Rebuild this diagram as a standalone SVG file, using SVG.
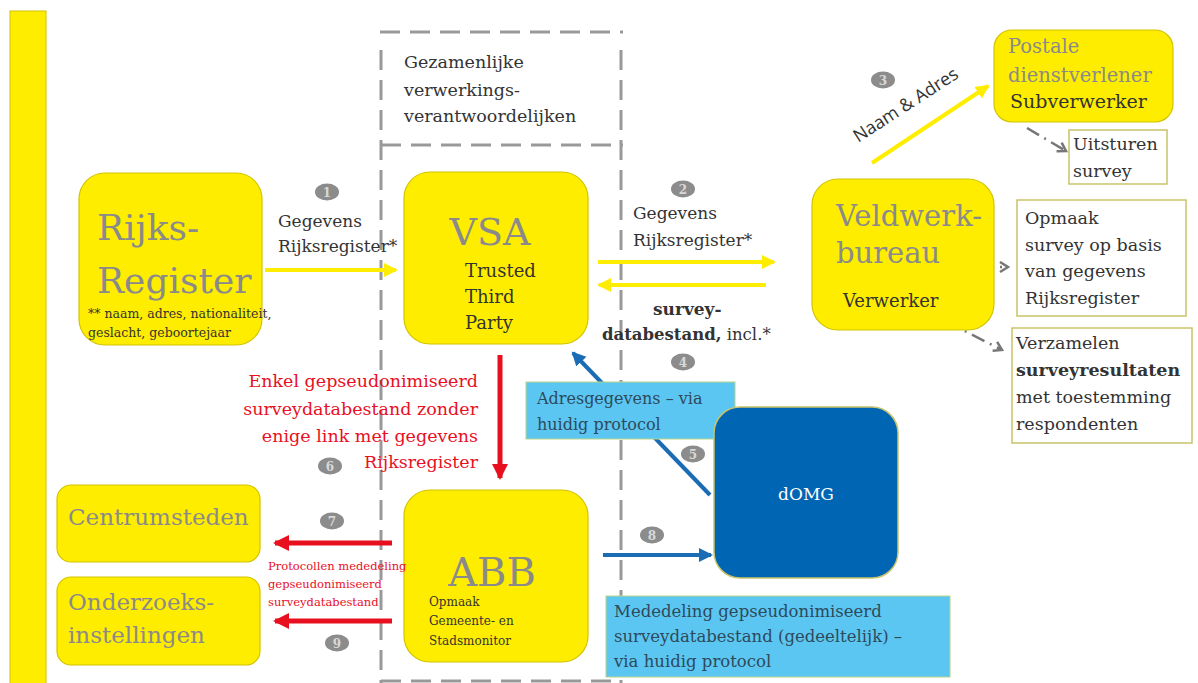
<svg xmlns="http://www.w3.org/2000/svg" width="1198" height="683" viewBox="0 0 1198 683">
<style>
text{font-family:"DejaVu Serif","Liberation Serif",serif;}
.box{fill:#FFED00;stroke:#d2c400;stroke-width:1.2;}
.big{fill:#8a8a8a;}
.dk{fill:#333;}
.note{fill:#fff;stroke:#c9c36a;stroke-width:1.5;}
.lb{fill:#5cc6f2;stroke:#b9d58a;stroke-width:1;}
.badge{fill:#8c8c8c;}
.bt{fill:#d8d8d8;font-size:12px;text-anchor:middle;font-weight:bold;}
.red{fill:#e8101f;}
.dash{fill:none;stroke:#999;stroke-width:3;stroke-dasharray:20 10;}
.yl{stroke:#FFED00;stroke-width:4;fill:none;}
.rl{stroke:#e8101f;stroke-width:5;fill:none;}
.bl{stroke:#1a6db4;stroke-width:4;fill:none;}
.gl{stroke:#777;stroke-width:2.5;fill:none;stroke-dasharray:14 6 2 6;}
</style>
<defs>
<marker id="ay" markerUnits="userSpaceOnUse" markerWidth="16" markerHeight="16" refX="12" refY="7" orient="auto"><path d="M0,0 L14,7 L0,14 z" fill="#FFED00"/></marker>
<marker id="ar" markerUnits="userSpaceOnUse" markerWidth="18" markerHeight="18" refX="14" refY="8" orient="auto"><path d="M0,0 L16,8 L0,16 z" fill="#e8101f"/></marker>
<marker id="ab" markerUnits="userSpaceOnUse" markerWidth="16" markerHeight="16" refX="12" refY="7" orient="auto"><path d="M0,0 L14,7 L0,14 z" fill="#1a6db4"/></marker>
<marker id="ag" markerUnits="userSpaceOnUse" markerWidth="14" markerHeight="14" refX="10" refY="6" orient="auto"><path d="M2,1 L10,6 L2,11" fill="none" stroke="#777" stroke-width="2.5"/></marker>
</defs>

<rect id="bar" x="10" y="11" width="36" height="680" fill="#FFED00" stroke="#d2c400" stroke-width="1"/>

<g id="joint-box">
<path class="dash" d="M380,32 L623,32 M381,50 L381,683 M381,145 L623,145 M621,50 L621,683 M381,681 L621,681"/>
<text class="dk" font-size="17.5"><tspan x="404" y="68">Gezamenlijke</tspan><tspan x="404" y="96">verwerkings-</tspan><tspan x="404" y="122">verantwoordelijken</tspan></text>
</g>

<g id="connectors">
<path class="yl" d="M265,270 L396,270" marker-end="url(#ay)"/>
<path class="yl" d="M598,262 L774,262" marker-end="url(#ay)"/>
<path class="yl" d="M766,285 L599,285" marker-end="url(#ay)"/>
<path class="yl" d="M872,163 L988,86" marker-end="url(#ay)"/>
<path class="rl" d="M500,355 L500,478" marker-end="url(#ar)"/>
<path class="rl" d="M392,543 L275,543" marker-end="url(#ar)"/>
<path class="rl" d="M392,621 L275,621" marker-end="url(#ar)"/>
<path class="bl" d="M710,495 L573,353" marker-end="url(#ab)"/>
<path class="bl" d="M603,555 L711,555" marker-end="url(#ab)"/>
<path class="gl" d="M1027,128 L1066,151" marker-end="url(#ag)"/>
<path class="gl" d="M952,267 L1008,267" marker-end="url(#ag)"/>
<path class="gl" d="M947,322 L1002,350" marker-end="url(#ag)"/>
</g>

<g id="rijksregister">
<rect class="box" x="79" y="173" width="183" height="172" rx="26"/>
<text class="big" font-size="36"><tspan x="97" y="240">Rijks-</tspan><tspan x="97" y="293">Register</tspan></text>
<text class="dk" font-size="12.5"><tspan x="88" y="318">** naam, adres, nationaliteit,</tspan><tspan x="88" y="337">geslacht, geboortejaar</tspan></text>
</g>

<g id="label1">
<ellipse class="badge" cx="327" cy="192" rx="12" ry="8.5"/><text class="bt" x="327" y="196.5">1</text>
<text class="dk" font-size="17"><tspan x="278" y="227">Gegevens</tspan><tspan x="278" y="252">Rijksregister*</tspan></text>
</g>

<g id="vsa">
<rect class="box" x="404" y="172" width="184" height="172" rx="26"/>
<text class="big" font-size="38" x="490" y="245" text-anchor="middle">VSA</text>
<text class="dk" font-size="18"><tspan x="465" y="277">Trusted</tspan><tspan x="465" y="303">Third</tspan><tspan x="465" y="329">Party</tspan></text>
</g>

<g id="label2">
<ellipse class="badge" cx="683" cy="189" rx="12" ry="8.5"/><text class="bt" x="683" y="193.5">2</text>
<text class="dk" font-size="17"><tspan x="633" y="219">Gegevens</tspan><tspan x="633" y="246">Rijksregister*</tspan></text>
<text class="dk" font-size="17" font-weight="bold"><tspan x="653" y="315">survey-</tspan></text>
<text class="dk" font-size="16.5"><tspan x="602" y="340" font-weight="bold">databestand,</tspan><tspan> incl.*</tspan></text>
<ellipse class="badge" cx="683" cy="362" rx="12" ry="8.5"/><text class="bt" x="683" y="366.5">4</text>
</g>

<g id="veldwerkbureau">
<rect class="box" x="812" y="179" width="182" height="151" rx="26"/>
<text class="big" font-size="29"><tspan x="836" y="226">Veldwerk-</tspan><tspan x="836" y="263">bureau</tspan></text>
<text class="dk" font-size="18" x="843" y="307">Verwerker</text>
</g>

<g id="postale">
<rect class="box" x="994" y="30" width="179" height="92" rx="18"/>
<text class="big" font-size="19.5"><tspan x="1008" y="53">Postale</tspan><tspan x="1008" y="82">dienstverlener</tspan></text>
<text class="dk" font-size="19" x="1010" y="108">Subverwerker</text>
</g>

<g id="label3">
<ellipse class="badge" cx="883" cy="80" rx="12" ry="8.5"/><text class="bt" x="883" y="84.5">3</text>
<text style="font-family:'Open Sans',sans-serif" fill="#333" font-size="18" x="909" y="110" text-anchor="middle" transform="rotate(-33 909 110)">Naam &amp; Adres</text>
</g>

<g id="uitsturen">
<rect class="note" x="1069" y="130" width="98" height="54"/>
<text class="dk" font-size="17.5"><tspan x="1073" y="150">Uitsturen</tspan><tspan x="1073" y="177">survey</tspan></text>
</g>

<g id="opmaak">
<rect class="note" x="1017" y="200" width="169" height="116"/>
<text class="dk" font-size="17.5"><tspan x="1025" y="224">Opmaak</tspan><tspan x="1025" y="251">survey op basis</tspan><tspan x="1025" y="277">van gegevens</tspan><tspan x="1025" y="304">Rijksregister</tspan></text>
</g>

<g id="verzamelen">
<rect class="note" x="1012" y="328" width="180" height="115"/>
<text class="dk" font-size="17.5"><tspan x="1016" y="349">Verzamelen</tspan><tspan x="1016" y="376" font-weight="bold">surveyresultaten</tspan><tspan x="1016" y="403">met toestemming</tspan><tspan x="1016" y="430">respondenten</tspan></text>
</g>

<g id="red-label">
<text class="red" font-size="17.5" text-anchor="end"><tspan x="478" y="387">Enkel gepseudonimiseerd</tspan><tspan x="478" y="415">surveydatabestand zonder</tspan><tspan x="478" y="442">enige link met gegevens</tspan><tspan x="478" y="468">Rijksregister</tspan></text>
<ellipse class="badge" cx="330" cy="466" rx="12" ry="8.5"/><text class="bt" x="330" y="470.5">6</text>
</g>

<g id="adresgegevens">
<rect class="lb" x="526" y="382" width="209" height="57"/>
<text fill="#2d4a5a" font-size="16"><tspan x="537" y="404">Adresgegevens – via</tspan><tspan x="537" y="430">huidig protocol</tspan></text>
<ellipse class="badge" cx="693" cy="454" rx="12" ry="8.5"/><text class="bt" x="693" y="458.5">5</text>
</g>

<g id="domg">
<rect x="714" y="407" width="184" height="171" rx="26" fill="#0066b3" stroke="#c9c36a" stroke-width="1.5"/>
<text fill="#fff" font-size="17" x="806" y="500" text-anchor="middle">dOMG</text>
</g>

<g id="label8">
<ellipse class="badge" cx="652" cy="535" rx="12" ry="8.5"/><text class="bt" x="652" y="539.5">8</text>
</g>

<g id="mededeling">
<rect class="lb" x="606" y="596" width="344" height="81"/>
<text fill="#2d4a5a" font-size="16.5"><tspan x="614" y="617">Mededeling gepseudonimiseerd</tspan><tspan x="614" y="642">surveydatabestand (gedeeltelijk) –</tspan><tspan x="614" y="667">via huidig protocol</tspan></text>
</g>

<g id="abb">
<rect class="box" x="404" y="490" width="184" height="172" rx="26"/>
<text class="big" font-size="40" x="492" y="586" text-anchor="middle">ABB</text>
<text class="dk" font-size="12"><tspan x="429" y="606">Opmaak</tspan><tspan x="429" y="625">Gemeente- en</tspan><tspan x="429" y="645">Stadsmonitor</tspan></text>
</g>

<g id="centrumsteden">
<rect class="box" x="57" y="485" width="203" height="77" rx="14"/>
<text class="big" font-size="23" x="68" y="525">Centrumsteden</text>
</g>

<g id="onderzoeksinstellingen">
<rect class="box" x="57" y="577" width="203" height="88" rx="14"/>
<text class="big" font-size="23"><tspan x="68" y="610">Onderzoeks-</tspan><tspan x="68" y="643">instellingen</tspan></text>
</g>

<g id="labels-7-9">
<ellipse class="badge" cx="332" cy="521" rx="12" ry="8.5"/><text class="bt" x="332" y="525.5">7</text>
<ellipse class="badge" cx="337" cy="643" rx="12" ry="8.5"/><text class="bt" x="337" y="647.5">9</text>
<text class="red" font-size="11.5"><tspan x="268" y="570">Protocollen mededeling</tspan><tspan x="268" y="588">gepseudonimiseerd</tspan><tspan x="268" y="606">surveydatabestand</tspan></text>
</g>
</svg>
